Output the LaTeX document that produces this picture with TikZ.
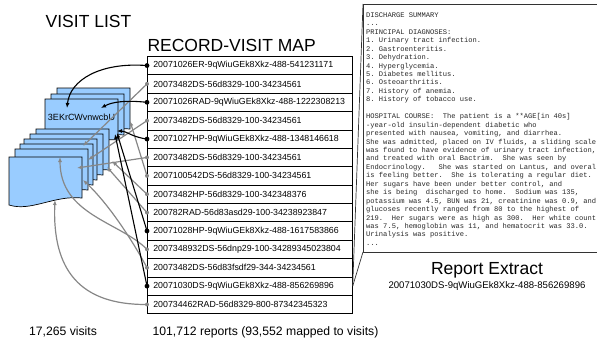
\documentclass[tikz,border=0pt]{standalone}
\usepackage{fontspec}
\setmainfont{Liberation Sans}
\setmonofont{Liberation Mono}
\usetikzlibrary{arrows.meta}
\definecolor{docblue}{HTML}{99CCFF}
\definecolor{linkgray}{RGB}{135,135,135}
\begin{document}
\begin{tikzpicture}[x=1pt,y=-1pt,
  rowbox/.style={draw, line width=0.7pt, anchor=north west, minimum height=18.38pt,
    text width=193pt, inner xsep=6pt, inner ysep=0pt, font=\fontsize{8.8}{10}\selectfont},
  blackarrow/.style={line width=1.1pt, -{Latex[length=5pt,width=4pt]}},
  grayarrow/.style={draw=linkgray, line width=1.2pt, -{Latex[length=5pt,width=4pt]}},
  docstyle/.style={draw, line width=0.7pt, fill=docblue},
  pics/vdoc/.style={code={\draw[docstyle] (0,0) -- (73,0) -- (73,41)
      .. controls (45,38) and (22,55) .. (0,48) -- cycle;}},
  title/.style={font=\fontsize{17.5}{20}\selectfont},
  footer/.style={font=\fontsize{12.2}{14}\selectfont}
]
\useasboundingbox (0,0) rectangle (597,341);

% titles
\node[title] (vltitle) at (88.5,21) {VISIT LIST};
\node[title, anchor=west] (maptitle) at (144,45) {RECORD-VISIT MAP};

% visit documents
\pic at (57,88) {vdoc};
\pic at (51,94) {vdoc};
\pic at (45,99) {vdoc};
\node[font=\fontsize{9}{10}\selectfont] (vid) at (81.5,117.5) {3EKrCWvnwcbU};
\pic at (36,129) {vdoc};
\pic at (30,134) {vdoc};
\pic at (24,139) {vdoc};
\pic at (20,144) {vdoc};
\pic at (15,149) {vdoc};
\pic at (9,157) {vdoc};

% table
\foreach \i/\id in {
  1/20071026ER-9qWiuGEk8Xkz-488-541231171,
  2/20073482DS-56d8329-100-34234561,
  3/20071026RAD-9qWiuGEk8Xkz-488-1222308213,
  4/20073482DS-56d8329-100-34234561,
  5/20071027HP-9qWiuGEk8Xkz-488-1348146618,
  6/20073482DS-56d8329-100-34234561,
  7/2007100542DS-56d8329-100-34234561,
  8/20073482HP-56d8329-100-342348376,
  9/200782RAD-56d83asd29-100-34238923847,
  10/20071028HP-9qWiuGEk8Xkz-488-1617583866,
  11/2007348932DS-56dnp29-100-34289345023804,
  12/20073482DS-56d83fsdf29-344-34234561,
  13/20071030DS-9qWiuGEk8Xkz-488-856269896,
  14/200734462RAD-56d8329-800-87342345323}
{ \node[rowbox] (r\i) at (147,{56+(\i-1)*18.38}) {\id}; }

% targets
\coordinate (b1) at (67,108);
\coordinate (b3) at (101,108);
\coordinate (b5) at (117,131);
\coordinate (b10) at (117,133);
\coordinate (b13) at (115,134);
\coordinate (g2) at (83,146);
\coordinate (g4) at (88,160);
\coordinate (g6) at (77,168);
\coordinate (g7) at (130,121);
\coordinate (g8) at (112,161);
\coordinate (g9) at (107,167);
\coordinate (g11) at (60,157);
\coordinate (g12) at (83,180);
\coordinate (g14) at (55,200);

% report extract box
\coordinate (boxtl) at (363,4);
\coordinate (boxbl) at (363,252);
\draw[line width=0.8pt, draw=black!80] (boxtl) rectangle (598,252);
\draw[line width=0.7pt, draw=black!80] (r13.east) -- (boxtl);
\draw[line width=0.7pt, draw=black!80] (r13.east) -- (boxbl);
\node[anchor=north west, align=left, inner sep=0pt, text=black!85,
  font=\ttfamily\fontsize{7.1}{8.44}\selectfont] (report) at (366,12.5) {%
DISCHARGE SUMMARY\\
...\\
PRINCIPAL DIAGNOSES:\\
1. Urinary tract infection.\\
2. Gastroenteritis.\\
3. Dehydration.\\
4. Hyperglycemia.\\
5. Diabetes mellitus.\\
6. Osteoarthritis.\\
7. History of anemia.\\
8. History of tobacco use.\\[8.44pt]
HOSPITAL COURSE:\ \ The patient is a **AGE[in 40s]\\
-year-old insulin-dependent diabetic who\\
presented with nausea, vomiting, and diarrhea.\\
She was admitted, placed on IV fluids, a sliding scale\\
was found to have evidence of urinary tract infection,\\
and treated with oral Bactrim.\ \ She was seen by\\
Endocrinology.\ \ \ She was started on Lantus, and overal\\
is feeling better.\ \ She is tolerating a regular diet.\\
Her sugars have been under better control, and\\
she is being\ \ discharged to home.\ \ Sodium was 135,\\
potassium was 4.5, BUN was 21, creatinine was 0.9, and\\
glucoses recently ranged from 80 to the highest of\\
219.\ \ Her sugars were as high as 300.\ \ Her white count\\
was 7.5, hemoglobin was 11, and hematocrit was 33.0.\\
Urinalysis was positive.\\
...};
\node[title] (rtitle) at (487,270) {Report Extract};
\node[font=\fontsize{9.6}{11}\selectfont] (rid) at (487,286) {20071030DS-9qWiuGEk8Xkz-488-856269896};

% footers
\node[footer] (fvisits) at (63,332) {17,265 visits};
\node[footer, anchor=west] (freports) at (149,332) {101,712 reports (93,552 mapped to visits)};

% gray links
\draw[grayarrow] (r2.west) -- (g2);
\draw[grayarrow] (r4.west) -- (g4);
\draw[grayarrow] (r6.west) -- (g6);
\draw[grayarrow] (r7.west) -- (g7);
\draw[grayarrow] (r8.west) -- (g8);
\draw[grayarrow] (r9.west) -- (g9);
\draw[grayarrow] (r11.west) .. controls (120,222) and (60,215) .. (g11);
\draw[grayarrow] (r12.west) .. controls (135,245) and (110,205) .. (g12);
\draw[grayarrow] (r14.west) .. controls (80,305) and (52,270) .. (g14);
\foreach \i in {2,4,6,7,8,9,11,12,14} { \fill[linkgray] (r\i.west) circle (2pt); }

% black links
\draw[blackarrow] (r1.west) .. controls (100,62) and (70,80) .. (b1);
\draw[blackarrow] (r3.west) .. controls (125,100) and (112,102) .. (b3);
\draw[blackarrow] (r5.west) .. controls (132,137) and (126,131) .. (b5);
\draw[blackarrow] (r10.west) -- (b10);
\draw[blackarrow] (r13.west) -- (b13);
\foreach \i in {1,3,5,10,13} { \fill (r\i.west) circle (2.4pt); }
\end{tikzpicture}
\end{document}
